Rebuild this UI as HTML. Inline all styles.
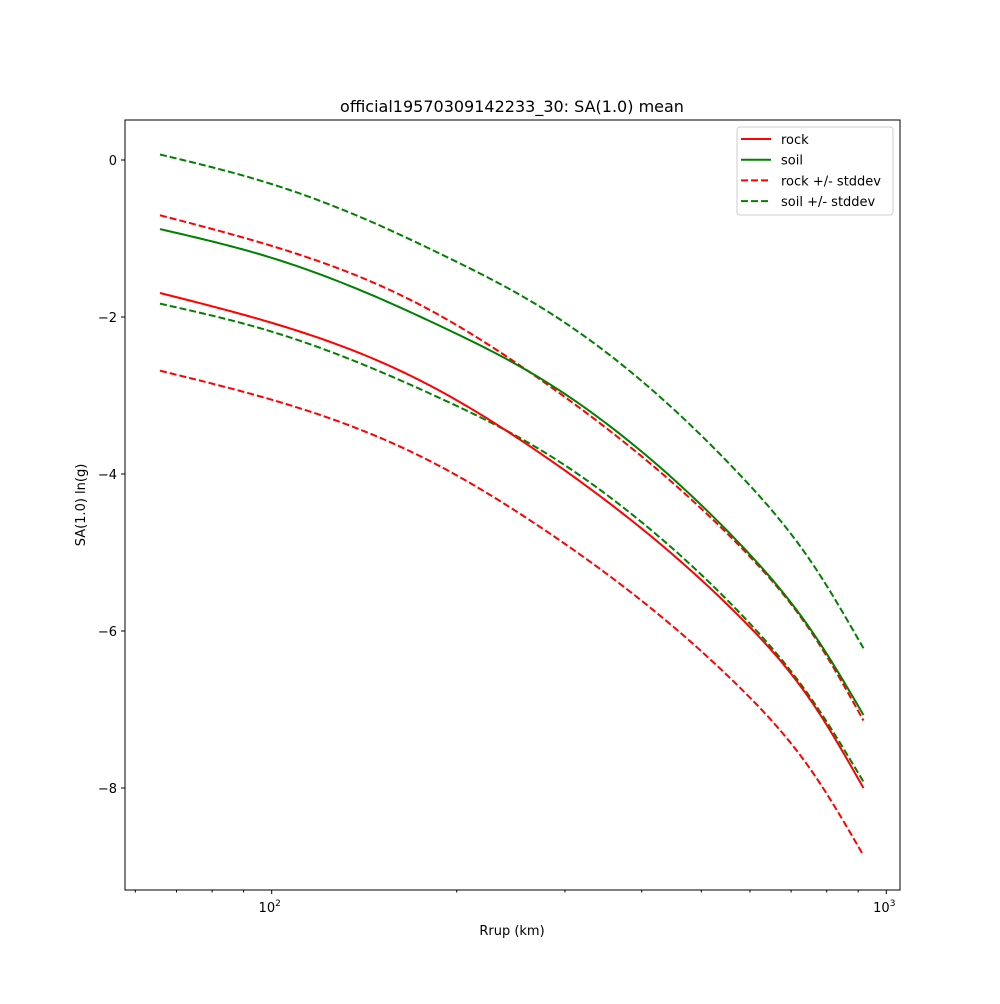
<!DOCTYPE html>
<html><head><meta charset="utf-8"><style>
body{margin:0;background:#fff;font-family:"DejaVu Sans","Liberation Sans",sans-serif;}
svg text{font-family:"DejaVu Sans","Liberation Sans",sans-serif;}
</style></head><body>
<svg id="chart" width="1000" height="1000" viewBox="0 0 1000 1000">
<rect width="1000" height="1000" fill="#fff"/>
<text x="512" y="112" font-size="16" text-anchor="middle">official19570309142233_30: SA(1.0) mean</text>
<g id="plot"></g>
<text x="512" y="935" font-size="13" text-anchor="middle">Rrup (km)</text>
<text x="85" y="505" font-size="13" text-anchor="middle" transform="rotate(-90 85 505)">SA(1.0) ln(g)</text>
</svg>
<script>
const distances = [65.8, 99, 148, 188, 273, 397, 578, 766, 918];
const rockMean = [-1.694, -2.064, -2.548, -2.943, -3.732, -4.675, -5.822, -6.968, -8.0];
const soilMean = [-0.880, -1.236, -1.745, -2.115, -2.777, -3.694, -4.892, -6.064, -7.070];
const rockStd = [0.99, 0.98, 0.97, 0.96, 0.94, 0.92, 0.90, 0.88, 0.86];
const soilStd = [0.95, 0.94, 0.93, 0.92, 0.91, 0.90, 0.88, 0.87, 0.85];
const yTicks = [0, -2, -4, -6, -8];
const xMajor = [100, 1000];
const xMinor = [60, 70, 80, 90, 200, 300, 400, 500, 600, 700, 800, 900];

const L = 125, R = 900, T = 120, B = 890;
function xs(v){ return 271.7 + (Math.log10(v) - 2) * 614.6; }
function ys(v){ return 160 - v * 78.5; }
const NS = "http://www.w3.org/2000/svg";
const plot = document.getElementById('plot');
function mk(tag, attrs, parent){ const e = document.createElementNS(NS, tag); for (const k in attrs) e.setAttribute(k, attrs[k]); (parent||plot).appendChild(e); return e; }

// natural cubic spline in pixel space, sampled densely
function pathFor(vals){
  const X = distances.map(xs), Y = vals.map(ys), n = X.length;
  const h=[], a=[], l=[1], mu=[0], z=[0], c=new Array(n).fill(0), b=[], d=[];
  for (let i=0;i<n-1;i++) h[i]=X[i+1]-X[i];
  for (let i=1;i<n-1;i++) a[i]=3/h[i]*(Y[i+1]-Y[i]) - 3/h[i-1]*(Y[i]-Y[i-1]);
  for (let i=1;i<n-1;i++){ l[i]=2*(X[i+1]-X[i-1]) - h[i-1]*mu[i-1]; mu[i]=h[i]/l[i]; z[i]=(a[i]-h[i-1]*z[i-1])/l[i]; }
  for (let j=n-2;j>=0;j--){ c[j] = (j===0?0:z[j]) - (j===0?0:mu[j]*c[j+1]); b[j]=(Y[j+1]-Y[j])/h[j] - h[j]*(c[j+1]+2*c[j])/3; d[j]=(c[j+1]-c[j])/(3*h[j]); }
  c[0]=0; b[0]=(Y[1]-Y[0])/h[0] - h[0]*(c[1])/3; d[0]=c[1]/(3*h[0]);
  let s = `M${X[0]},${Y[0]}`;
  for (let i=0;i<n-1;i++){
    for (let k=1;k<=20;k++){
      const dx = h[i]*k/20;
      const y = Y[i]+b[i]*dx+c[i]*dx*dx+d[i]*dx*dx*dx;
      s += ` L${(X[i]+dx).toFixed(2)},${y.toFixed(2)}`;
    }
  }
  return s;
}

const defs = mk('defs', {});
const cp = mk('clipPath', {id:'clip'}, defs);
mk('rect', {x:L, y:T, width:R-L, height:B-T}, cp);
const g = mk('g', {'clip-path':'url(#clip)'});

const series = [
  {vals: rockMean.map((v,i)=>v+rockStd[i]), color:'#ff0000', dash:'7,3', name:'rock-plus-stddev-line'},
  {vals: rockMean.map((v,i)=>v-rockStd[i]), color:'#ff0000', dash:'7,3', name:'rock-minus-stddev-line'},
  {vals: soilMean.map((v,i)=>v+soilStd[i]), color:'#008000', dash:'7,3', name:'soil-plus-stddev-line'},
  {vals: soilMean.map((v,i)=>v-soilStd[i]), color:'#008000', dash:'7,3', name:'soil-minus-stddev-line'},
  {vals: rockMean, color:'#ff0000', dash:null, name:'rock-mean-line'},
  {vals: soilMean, color:'#008000', dash:null, name:'soil-mean-line'},
];
series.forEach(s=>{
  const a = {d:pathFor(s.vals), fill:'none', stroke:s.color, 'stroke-width':2, 'stroke-linejoin':'round'};
  if (s.dash) a['stroke-dasharray'] = s.dash;
  const e = mk('path', a, g);
  
  
});

const frame = mk('rect', {x:L, y:T, width:R-L, height:B-T, fill:'none', stroke:'#000', 'stroke-width':1});



yTicks.forEach(t=>{
  const y = ys(t);
  mk('line', {x1:L-4, x2:L, y1:y, y2:y, stroke:'#000'});
  const tx = mk('text', {x:L-8, y:y+5, 'font-size':13, 'text-anchor':'end'});
  tx.textContent = t < 0 ? '\u2212' + Math.abs(t) : String(t);
  
  
});
xMinor.forEach(t=>{
  const x = xs(t);
  mk('line', {x1:x, x2:x, y1:B, y2:B+2.5, stroke:'#000'});
});
xMajor.forEach(t=>{
  const x = xs(t);
  mk('line', {x1:x, x2:x, y1:B, y2:B+4, stroke:'#000'});
  const tx = mk('text', {x:x-2, y:B+22, 'font-size':13, 'text-anchor':'middle'});
  tx.textContent = '10';
  const sup = mk('tspan', {dy:-6, 'font-size':9}, tx);
  sup.textContent = String(Math.round(Math.log10(t)));
  
  
});

const lg = mk('g', {});


mk('rect', {x:737, y:127, width:156, height:88, rx:3, fill:'#fff', stroke:'#ccc'}, lg);
const entries = [['rock','#ff0000',null],['soil','#008000',null],['rock +/- stddev','#ff0000','7,3'],['soil +/- stddev','#008000','7,3']];
entries.forEach((en,i)=>{
  const y = 139 + i*20.7;
  const a = {x1:741, x2:771, y1:y, y2:y, stroke:en[1], 'stroke-width':2};
  if (en[2]) a['stroke-dasharray'] = en[2];
  mk('line', a, lg);
  const tx = mk('text', {x:781, y:y+5, 'font-size':13}, lg);
  tx.textContent = en[0];
  
  
});
</script>
</body></html>
